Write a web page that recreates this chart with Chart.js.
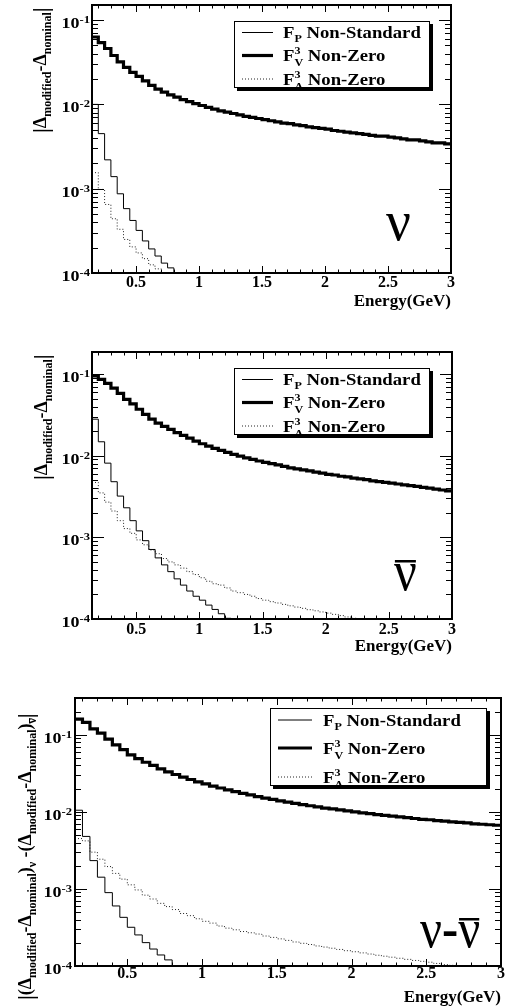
<!DOCTYPE html>
<html><head><meta charset="utf-8">
<script src="https://cdn.jsdelivr.net/npm/chart.js@4.4.1/dist/chart.umd.min.js"></script>
<style>
html,body{margin:0;padding:0;background:#fff;}
#wrap{position:relative;width:510px;height:1006px;overflow:hidden;background:#fff;}
canvas{position:absolute;left:0;}
</style></head><body>
<div id="wrap">
<canvas id="c1" width="510" height="335" style="top:0px"></canvas>
<canvas id="c2" width="510" height="335" style="top:335px"></canvas>
<canvas id="c3" width="510" height="336" style="top:670px"></canvas>
</div>
<script>
// ---------------- DATA ----------------
const energyEdges = [0.15,0.20,0.25,0.30,0.35,0.40,0.45,0.50,0.55,0.60,0.65,0.70,0.75,0.80,0.85,0.90,0.95,1.00,1.05,1.10,1.15,1.20,1.25,1.30,1.35,1.40,1.45,1.50,1.55,1.60,1.65,1.70,1.75,1.80,1.85,1.90,1.95,2.00,2.05,2.10,2.15,2.20,2.25,2.30,2.35,2.40,2.45,2.50,2.55,2.60,2.65,2.70,2.75,2.80,2.85,2.90,2.95,3.00];
const xTickValues = [0.5, 1, 1.5, 2, 2.5, 3];
const xTickLabels = ['0.5', '1', '1.5', '2', '2.5', '3'];
const yTickValues = [1e-4, 1e-3, 1e-2, 1e-1];
const yTickExponents = ['-4', '-3', '-2', '-1'];
const seriesLabels = ['F_P Non-Standard', 'F_V^3 Non-Zero', 'F_A^3 Non-Zero'];

// neutrino
const nuFP = [0.0100,0.0045,0.0022,0.00139,0.00087,0.00058,0.00042,0.00032,0.00024,0.000193,0.000159,0.000131,0.000115,0.00009,
  null,null,null,null,null,null,null,null,null,null,null,null,null,null,null,null,null,null,null,null,null,null,null,null,null,null,null,null,null,null,null,null,null,null,null,null,null,null,null,null,null,null,null];
const nuFV3 = [0.063,0.054,0.046,0.038,0.032,0.0275,0.024,0.0215,0.019,0.0168,
  0.0152,0.0140,0.0130,0.0122,0.0114,0.0108,0.0102,0.0097,0.0092,0.0088,
  0.0084,0.0081,0.0078,0.0075,0.0072,0.0070,0.0068,0.0066,0.0064,0.0062,
  0.0060,0.0059,0.0057,0.0056,0.0054,0.0053,0.0052,0.0051,0.0049,0.0048,
  0.0047,0.0046,0.0045,0.0044,0.0043,0.0042,0.0042,0.0041,0.0040,0.0039,
  0.0038,0.0038,0.0037,0.0036,0.0035,0.0035,0.0034];
const nuFA3 = [0.00155,0.00098,0.00065,0.00044,0.00033,0.00025,0.000204,0.000173,0.000148,0.000125,0.000112,0.00009,
  null,null,null,null,null,null,null,null,null,null,null,null,null,null,null,null,null,null,null,null,null,null,null,null,null,null,null,null,null,null,null,null,null,null,null,null,null,null,null,null,null,null,null,null,null];

// anti-neutrino
const nubarFP = [0.028,0.0148,0.0081,0.0048,0.0032,0.0023,0.0016,0.0012,0.00091,0.00071,
  0.00056,0.00046,0.00038,0.00031,0.00026,0.00022,0.00019,0.00017,0.000148,0.000131,
  0.000116,0.000102,0.00009,
  null,null,null,null,null,null,null,null,null,null,null,null,null,null,null,null,null,null,null,null,null,null,null,null,null,null,null,null,null,null,null,null];
const nubarFV3 = [0.095,0.086,0.077,0.067,0.058,0.049,0.043,0.037,0.032,0.028,
  0.025,0.0228,0.021,0.0192,0.0177,0.0164,0.0151,0.0140,0.0131,0.0123,
  0.0116,0.0110,0.0104,0.0099,0.0094,0.0090,0.0086,0.0083,0.0080,0.0077,
  0.0074,0.0071,0.0069,0.0067,0.0065,0.0063,0.0061,0.0059,0.0058,0.0056,
  0.0055,0.0053,0.0052,0.0051,0.0049,0.0048,0.0047,0.0046,0.0045,0.0044,
  0.0043,0.0042,0.0041,0.0040,0.0039,0.0038,0.0037];
const nubarFA3 = [0.0047,0.0035,0.0027,0.0021,0.0016,0.00128,0.00112,0.00093,0.00081,0.00070,
  0.00063,0.00055,0.00050,0.00046,0.00042,0.00038,0.00035,0.00032,0.00029,0.00027,
  0.00026,0.00024,0.00022,0.00021,0.00020,0.00019,0.000178,0.00017,0.000163,0.000157,
  0.000151,0.000145,0.00014,0.000135,0.00013,0.000126,0.000122,0.000118,0.000114,0.00011,
  0.000106,0.000102,0.000098,
  null,null,null,null,null,null,null,null,null,null,null,null,null,null];

// difference
const diffFP = [0.0105,0.0048,0.00233,0.00142,0.000895,0.000601,0.000428,0.000318,0.000253,0.000201,0.000166,0.000139,0.00012,0.00009,
  null,null,null,null,null,null,null,null,null,null,null,null,null,null,null,null,null,null,null,null,null,null,null,null,null,null,null,null,null,null,null,null,null,null,null,null,null,null,null,null,null,null,null];
const diffFV3 = [0.160,0.145,0.119,0.105,0.088,0.074,0.064,0.055,0.049,0.044,
  0.040,0.036,0.033,0.0305,0.0283,0.0263,0.0245,0.0230,0.0216,0.0204,
  0.0193,0.0183,0.0174,0.0166,0.0158,0.0151,0.0145,0.0139,0.0134,0.0129,
  0.0124,0.0120,0.0116,0.0112,0.0109,0.0106,0.0103,0.0100,0.0097,0.0095,
  0.0092,0.0090,0.0088,0.0086,0.0084,0.0082,0.0080,0.0079,0.0077,0.0076,
  0.0074,0.0073,0.0072,0.0070,0.0069,0.0068,0.0067];
const diffFA3 = [0.0045,0.0042,0.0030,0.00243,0.00195,0.00159,0.00134,0.00113,0.00097,0.00083,
  0.00074,0.00065,0.00059,0.00054,0.00048,0.00045,0.00041,0.00038,0.00036,0.00033,
  0.00031,0.000295,0.00028,0.00027,0.00026,0.000245,0.000235,0.000225,0.000215,0.000205,
  0.000197,0.00019,0.000182,0.000176,0.00017,0.000164,0.000158,0.000153,0.000148,0.000143,
  0.000138,0.000134,0.00013,0.000126,0.000122,0.000118,0.000115,0.000112,0.000108,0.000104,
  0.000102,0.000097,
  null,null,null,null,null];

// ---------------- RENDERING ----------------
const SERIF = '"Liberation Serif", "Times New Roman", serif';
const bf = (s) => 'bold ' + s + 'px ' + SERIF;
const nf = (s) => s + 'px ' + SERIF;

function histPoints(vals) {
  return energyEdges.map((x, i) => ({ x: x, y: i < vals.length ? vals[i] : vals[vals.length - 1] }));
}

function legendParts(idx, big, small) {
  if (idx === 0) return [{t:'F', f:bf(big)}, {t:'P', f:bf(small), dy:4}, {t:' Non-Standard', f:bf(big)}];
  const sub = idx === 1 ? 'V' : 'A';
  return [{t:'F', f:bf(big)}, {t:'3', f:bf(small), dy:-7, noAdv:true}, {t:sub, f:bf(small), dy:5}, {t:' Non-Zero', f:bf(big)}];
}

function drawRich(ctx, parts, x, y, hs) {
  ctx.save();
  ctx.translate(x, y);
  ctx.scale(hs || 1, 1);
  ctx.textAlign = 'left';
  ctx.textBaseline = 'alphabetic';
  ctx.fillStyle = '#000';
  let cx = 0;
  for (const p of parts) {
    ctx.font = p.f;
    ctx.fillText(p.t, cx, p.dy || 0);
    const w = ctx.measureText(p.t).width;
    if (p.bar) {
      ctx.fillRect(cx + p.bar[0], (p.dy || 0) + p.bar[1], w + p.bar[2], p.bar[3]);
    }
    if (!p.noAdv) cx += w;
  }
  ctx.restore();
}

const PANELS = {
  c1: {
    yMax: 0.151, padTop: 5, padRight: 59, yAxisW: 92, xAxisH: 62, xTickPad: 2, titlePad: 24.5,
    expGap: 2, baseDy: 8, expDy: 3,
    legend: {x:234, y:21, w:196, h:67, sh:3, rows:[11.5, 34.5, 58], lx0:8, lx1:39, tx:49, big:17, small:11, hs:1.1, tdy:5.5},
    ytitle: {x:46, y:133, big:18, small:12, kind:'single'},
    label: {x:386, y:240, hs:0.95, parts:[{t:'ν', f:nf(58)}]}
  },
  c2: {
    yMax: 0.186, padTop: 17, padRight: 58, yAxisW: 92, xAxisH: 51, xTickPad: 3, titlePad: 15,
    expGap: 2, baseDy: 8, expDy: 3,
    legend: {x:234, y:33, w:196, h:67, sh:3, rows:[11.5, 34.5, 58], lx0:8, lx1:39, tx:49, big:17, small:11, hs:1.1, tdy:5.5},
    ytitle: {x:47, y:145, big:18, small:12, kind:'single'},
    label: {x:394, y:255, hs:0.9, parts:[{t:'ν', f:nf(56), bar:[1, -30, -2, 2.5]}]}
  },
  c3: {
    yMax: 0.30, padTop: 28, padRight: 9, yAxisW: 75, xAxisH: 40, xTickPad: -0.5, titlePad: 0,
    expGap: 3, baseDy: 8, expDy: 3,
    legend: {x:270, y:38, w:217, h:78, sh:3, rows:[12, 40, 69], lx0:8, lx1:42, tx:53, big:17, small:11, hs:1.1, tdy:5.5},
    ytitle: {x:31, y:1000 - 670, big:18, small:12, kind:'diff'},
    label: {x:420, y:277, hs:0.9, parts:[{t:'ν', f:nf(54)}, {t:'-', f:bf(54)}, {t:'ν', f:nf(54), bar:[1, -29, -2, 2.5]}]}
  }
};

function yTitleParts(kind, big, small) {
  const B = bf(big), S = bf(small), BAR = bf(big + 4);
  if (kind === 'single') {
    return [{t:'|', f:BAR, dy:2}, {t:'Δ', f:B}, {t:'modified', f:S, dy:5}, {t:'-', f:B}, {t:'Δ', f:B}, {t:'nominal', f:S, dy:5}, {t:'|', f:BAR, dy:2}];
  }
  return [{t:'|', f:BAR, dy:2}, {t:'(', f:B}, {t:'Δ', f:B}, {t:'modified', f:S, dy:5}, {t:'-', f:B}, {t:'Δ', f:B}, {t:'nominal', f:S, dy:5}, {t:')', f:B},
          {t:'ν', f:S, dy:5}, {t:' -', f:B}, {t:'(', f:B}, {t:'Δ', f:B}, {t:'modified', f:S, dy:5}, {t:'-', f:B}, {t:'Δ', f:B}, {t:'nominal', f:S, dy:5}, {t:')', f:B},
          {t:'ν', f:S, dy:5, bar:[0, -7, 0, 1]}, {t:'|', f:BAR, dy:2}];
}

const decorPlugin = {
  id: 'rootDecor',
  afterDraw(chart) {
    const P = PANELS[chart.canvas.id];
    const ctx = chart.ctx;
    const a = chart.chartArea;
    const xs = chart.scales.x, ys = chart.scales.y;
    ctx.save();
    ctx.strokeStyle = '#000';
    ctx.fillStyle = '#000';
    // ticks (inward, ROOT style)
    ctx.lineWidth = 1;
    ctx.beginPath();
    for (let k = 2; k <= 29; k++) {
      const v = k / 10;
      const px = Math.round(xs.getPixelForValue(v)) + 0.5;
      const L = (k % 5 === 0) ? 7 : 3.5;
      ctx.moveTo(px, a.bottom); ctx.lineTo(px, a.bottom - L);
      ctx.moveTo(px, a.top); ctx.lineTo(px, a.top + L);
    }
    for (let d = -4; d <= 0; d++) {
      for (let m = 1; m <= 9; m++) {
        const v = m * Math.pow(10, d);
        if (v < 1e-4 * 0.999 || v > P.yMax) continue;
        const py = Math.round(ys.getPixelForValue(v)) + 0.5;
        const L = m === 1 ? 12 : 6;
        ctx.moveTo(a.left, py); ctx.lineTo(a.left + L, py);
        ctx.moveTo(a.right, py); ctx.lineTo(a.right - L, py);
      }
    }
    ctx.stroke();
    // frame
    ctx.lineWidth = 2;
    ctx.strokeRect(a.left, a.top, a.right - a.left, a.bottom - a.top);
    // y tick labels (10^n), slightly widened like the original
    yTickValues.forEach((v, i) => {
      const py = ys.getPixelForValue(v);
      const xr = a.left - P.expGap;
      ctx.save();
      ctx.translate(xr, py);
      ctx.scale(1.2, 1);
      ctx.textAlign = 'right';
      ctx.textBaseline = 'alphabetic';
      ctx.font = bf(10.5);
      const ew = ctx.measureText(yTickExponents[i]).width;
      ctx.fillText(yTickExponents[i], 0, P.expDy);
      ctx.font = bf(15);
      ctx.fillText('10', -ew, P.baseDy);
      ctx.restore();
    });
    // legend
    const L = P.legend;
    ctx.fillStyle = '#000';
    ctx.fillRect(L.x + L.sh, L.y + L.sh, L.w, L.h);
    ctx.fillStyle = '#fff';
    ctx.fillRect(L.x, L.y, L.w, L.h);
    ctx.lineWidth = 1;
    ctx.strokeStyle = '#000';
    ctx.strokeRect(L.x + 0.5, L.y + 0.5, L.w - 1, L.h - 1);
    chart.data.datasets.forEach((ds, i) => {
      const ry = L.y + L.rows[i];
      ctx.save();
      ctx.lineWidth = ds.borderWidth;
      ctx.strokeStyle = ds.borderColor;
      ctx.setLineDash(ds.borderDash || []);
      ctx.beginPath();
      ctx.moveTo(L.x + L.lx0, ry); ctx.lineTo(L.x + L.lx1, ry);
      ctx.stroke();
      ctx.restore();
      drawRich(ctx, legendParts(i, L.big, L.small), L.x + L.tx, ry + L.tdy, L.hs);
    });
    // y axis title (rotated)
    const T = P.ytitle;
    ctx.save();
    ctx.translate(T.x, T.y);
    ctx.rotate(-Math.PI / 2);
    drawRich(ctx, yTitleParts(T.kind, T.big, T.small), 0, 0, 1);
    ctx.restore();
    // big neutrino label
    drawRich(ctx, P.label.parts, P.label.x, P.label.y, P.label.hs);
    ctx.restore();
  }
};

function makeChart(id, fp, fv, fa) {
  const P = PANELS[id];
  return new Chart(document.getElementById(id), {
    type: 'line',
    data: {
      datasets: [
        { label: seriesLabels[0], data: histPoints(fp), borderColor: '#000', borderWidth: 1, stepped: 'before', pointRadius: 0, fill: false },
        { label: seriesLabels[1], data: histPoints(fv), borderColor: '#000', borderWidth: 3.2, stepped: 'before', pointRadius: 0, fill: false },
        { label: seriesLabels[2], data: histPoints(fa), borderColor: '#222', borderWidth: 1, borderDash: [1, 2], stepped: 'before', pointRadius: 0, fill: false }
      ]
    },
    options: {
      responsive: false,
      animation: false,
      devicePixelRatio: 1,
      parsing: false,
      layout: { padding: { left: 0, right: P.padRight, top: P.padTop, bottom: 0 } },
      plugins: { legend: { display: false }, tooltip: { enabled: false } },
      scales: {
        x: {
          type: 'linear', min: 0.15, max: 3,
          grid: { display: false, drawTicks: false }, border: { display: false },
          afterBuildTicks: (s) => { s.ticks = xTickValues.map(v => ({ value: v })); },
          afterFit: (s) => { s.height = P.xAxisH; },
          ticks: {
            callback: (v) => xTickLabels[xTickValues.indexOf(v)],
            font: { family: SERIF, weight: 'bold', size: 16, lineHeight: 1 },
            color: '#000', padding: P.xTickPad, maxRotation: 0, autoSkip: false
          },
          title: {
            display: true, text: 'Energy(GeV)', align: 'end', color: '#000',
            font: { family: SERIF, weight: 'bold', size: 17, lineHeight: 1 },
            padding: { top: 0, bottom: P.titlePad }
          }
        },
        y: {
          type: 'logarithmic', min: 1e-4, max: P.yMax,
          grid: { display: false, drawTicks: false }, border: { display: false },
          afterBuildTicks: (s) => { s.ticks = yTickValues.map(v => ({ value: v })); },
          afterFit: (s) => { s.width = P.yAxisW; },
          ticks: { display: false }
        }
      }
    },
    plugins: [decorPlugin]
  });
}

makeChart('c1', nuFP, nuFV3, nuFA3);
makeChart('c2', nubarFP, nubarFV3, nubarFA3);
makeChart('c3', diffFP, diffFV3, diffFA3);
</script>
</body></html>
